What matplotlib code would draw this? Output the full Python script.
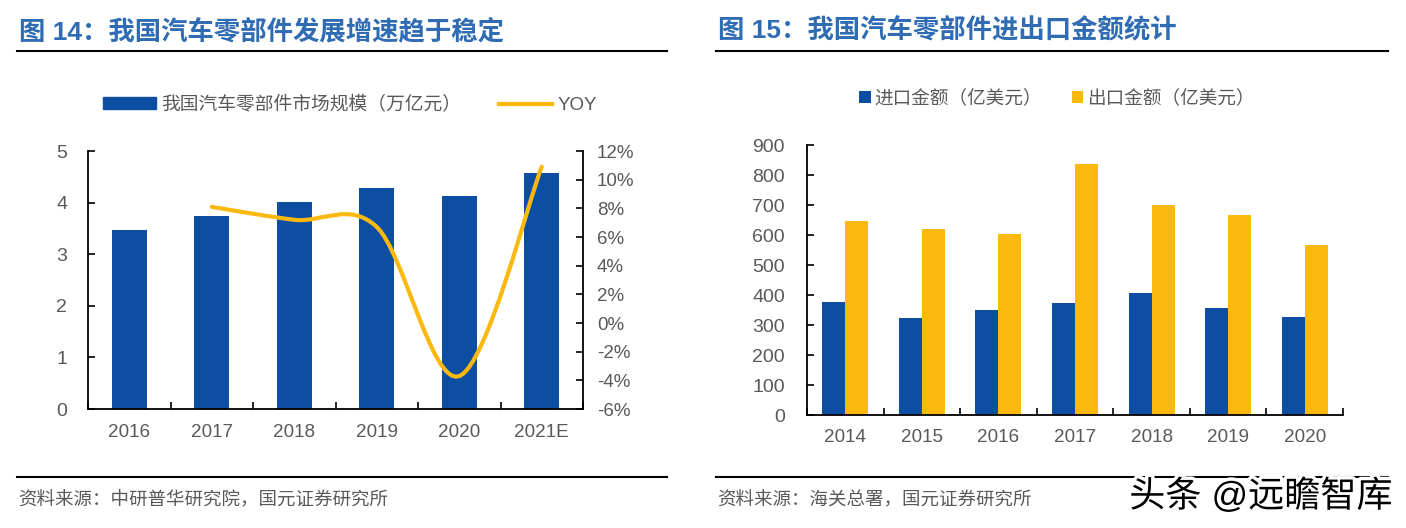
import numpy as np
import matplotlib
matplotlib.use('Agg')
from matplotlib import pyplot as plt
from matplotlib.path import Path
from matplotlib.patches import PathPatch
from matplotlib.lines import Line2D
from matplotlib.patches import Patch
import matplotlib.patheffects as pe

plt.rcParams['font.family'] = ['Liberation Sans', 'Noto Sans CJK SC']

W, H = 1406, 528

# left chart
years_l = ['2016', '2017', '2018', '2019', '2020', '2021E']
market = [3.47, 3.75, 4.02, 4.29, 4.13, 4.58]
yoy = [8.1, 7.2, 6.7, -3.7, 10.9]
left_ticks = [0, 1, 2, 3, 4, 5]
right_ticks = [-6, -4, -2, 0, 2, 4, 6, 8, 10, 12]

# right chart
years_r = ['2014', '2015', '2016', '2017', '2018', '2019', '2020']
imports = [378, 324, 349, 373, 408, 356, 327]
exports = [648, 621, 604, 836, 699, 668, 566]
amount_ticks = [0, 100, 200, 300, 400, 500, 600, 700, 800, 900]

title_l = '图 14：我国汽车零部件发展增速趋于稳定'
title_r = '图 15：我国汽车零部件进出口金额统计'
source_l = '资料来源：中研普华研究院，国元证券研究所'
source_r = '资料来源：海关总署，国元证券研究所'

BLUE = '#0B4EA2'
YELLOW = '#FBB80F'
TITLE = '#2F6CB3'
GREY = '#595959'


def px_axes(fig, x0, x1, y0, y1):
    # pixel box (y from the top) -> axes
    return fig.add_axes([x0 / W, 1 - y1 / H, (x1 - x0) / W, (y1 - y0) / H])


def smooth_path(xs, ys):
    # same kind of curve as an office chart "smoothed line": bezier through the points
    verts = [(xs[0], ys[0])]
    codes = [Path.MOVETO]
    n = len(xs)
    for i in range(n - 1):
        prev_i = max(i - 1, 0)
        next_i = min(i + 2, n - 1)
        c1 = (xs[i] + (xs[i + 1] - xs[prev_i]) / 6, ys[i] + (ys[i + 1] - ys[prev_i]) / 6)
        c2 = (xs[i + 1] - (xs[next_i] - xs[i]) / 6, ys[i + 1] - (ys[next_i] - ys[i]) / 6)
        verts += [c1, c2, (xs[i + 1], ys[i + 1])]
        codes += [Path.CURVE4, Path.CURVE4, Path.CURVE4]
    return Path(verts, codes)


def style_axis(ax, n, labels, x_pad, y_pad):
    for s in ['top', 'right']:
        ax.spines[s].set_visible(False)
    for s in ['left', 'bottom']:
        ax.spines[s].set_linewidth(1.3)
    ax.set_xlim(-0.5, n - 0.5)
    ax.set_xticks(np.arange(n + 1) - 0.5)
    ax.set_xticklabels([])
    ax.set_xticks(np.arange(n), minor=True)
    ax.set_xticklabels(labels, minor=True)
    ax.tick_params(axis='x', which='major', direction='in', length=5, width=1.2)
    ax.tick_params(axis='x', which='minor', length=0, pad=x_pad, labelsize=13.6, labelcolor=GREY)
    ax.tick_params(axis='y', direction='in', length=5, width=1.2, pad=y_pad, labelsize=14, labelcolor=GREY)


def frame_text(fig, x0, x1, title, source):
    fig.add_artist(Line2D([x0 / W, x1 / W], [1 - 51 / H] * 2, color='black', lw=1.5))
    fig.add_artist(Line2D([x0 / W, x1 / W], [1 - 477 / H] * 2, color='black', lw=1.5))
    fig.text((x0 + 2) / W, 1 - 31 / H, title, color=TITLE, fontsize=19, fontweight='bold', va='center')
    fig.text((x0 + 1) / W, 1 - 501 / H, source, color=GREY, fontsize=13.3, va='center')


fig = plt.figure(figsize=(W / 100, H / 100), dpi=100, facecolor='white')

# ---- left chart
ax = px_axes(fig, 88, 583, 151, 409)
x = np.arange(len(years_l))
ax.bar(x, market, width=0.42, color=BLUE, zorder=2)
ax.set_ylim(0, 5)
ax.set_yticks(left_ticks)
style_axis(ax, len(years_l), years_l, 11, 15)

ax2 = ax.twinx()
ax2.set_ylim(-6, 12)
ax2.set_yticks(right_ticks)
ax2.set_yticklabels(['%d%%' % t for t in right_ticks])
for s in ['top', 'left', 'bottom']:
    ax2.spines[s].set_visible(False)
ax2.spines['right'].set_linewidth(1.3)
ax2.tick_params(axis='y', direction='in', length=5, width=1.2, pad=10, labelsize=13.5, labelcolor=GREY)
ax2.add_patch(PathPatch(smooth_path(list(x[1:]), yoy), fill=False, edgecolor=YELLOW, lw=3, capstyle='round'))

fig.legend(handles=[Patch(color=BLUE, label='我国汽车零部件市场规模（万亿元）'),
                    Line2D([0], [0], color=YELLOW, lw=3, label='YOY')],
           loc='center', bbox_to_anchor=(350 / W, 1 - 105 / H), ncol=2, frameon=False,
           fontsize=13.5, labelcolor=GREY, handlelength=2.83, handleheight=0.6,
           columnspacing=2.0, handletextpad=0.27)

# ---- right chart
ax3 = px_axes(fig, 807, 1343, 145, 415)
x = np.arange(len(years_r))
ax3.bar(x - 0.15, imports, width=0.3, color=BLUE, label='进口金额（亿美元）', zorder=2)
ax3.bar(x + 0.15, exports, width=0.3, color=YELLOW, label='出口金额（亿美元）', zorder=2)
ax3.set_ylim(0, 900)
ax3.set_yticks(amount_ticks)
style_axis(ax3, len(years_r), years_r, 10, 16)
fig.legend(handles=ax3.get_legend_handles_labels()[0], labels=ax3.get_legend_handles_labels()[1],
           loc='center', bbox_to_anchor=(1057 / W, 1 - 99 / H), ncol=2, frameon=False,
           fontsize=13.4, labelcolor=GREY, handlelength=0.6, handleheight=0.6,
           columnspacing=1.62, handletextpad=0.2)

frame_text(fig, 17, 667, title_l, source_l)
frame_text(fig, 716, 1388, title_r, source_r)

# watermark
fig.text(1261 / W, 1 - 497 / H, '头条 @远瞻智库', color='black', fontsize=26, ha='center', va='center',
         path_effects=[pe.withStroke(linewidth=5, foreground='white')], zorder=10)

fig.savefig('out.png', dpi=100)
